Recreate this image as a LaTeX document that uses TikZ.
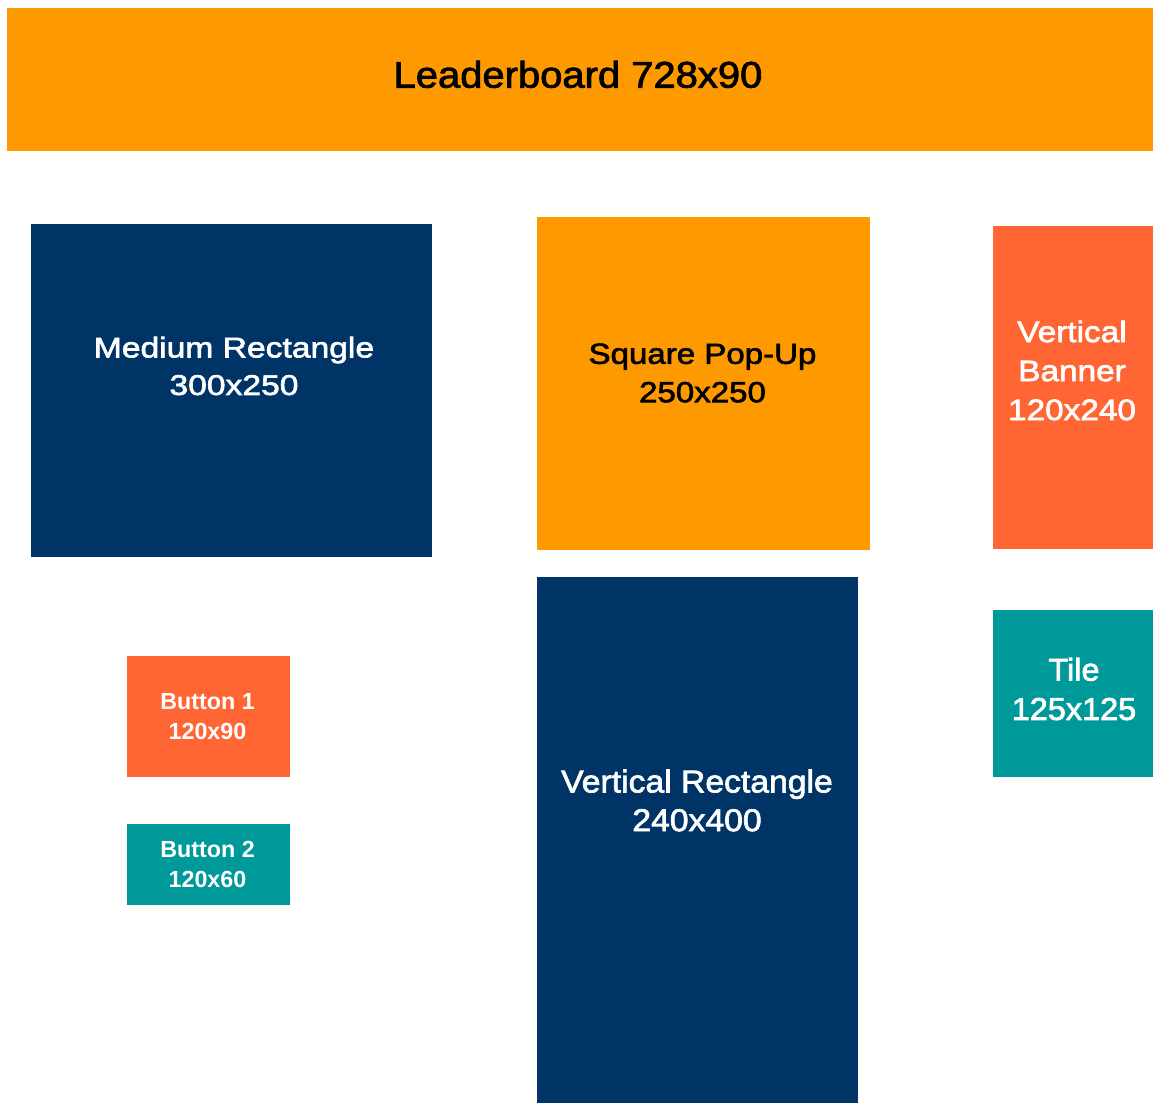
\documentclass[tikz,border=0pt]{standalone}
\usepackage{fontspec}
\setmainfont{Liberation Sans}
\definecolor{adorange}{HTML}{FF9900}
\definecolor{adnavy}{HTML}{003366}
\definecolor{adcoral}{HTML}{FF6633}
\definecolor{adteal}{HTML}{009999}
% size, line skip, horizontal stretch (slightly emboldened strokes)
\newcommand{\adfont}[3]{\fontsize{#1}{#2}\selectfont\addfontfeature{FakeStretch=#3,FakeBold=2.2}}
\begin{document}
\begin{tikzpicture}[x=1pt,y=-1pt,
  adbox/.style={draw=none,inner sep=0pt,outer sep=0pt,anchor=north west},
  adtext/.style={inner sep=0pt,outer sep=0pt,align=center,anchor=center}]
\useasboundingbox[fill=white] (0,0) rectangle (1153,1103);
% ad units
\node[adbox,fill=adorange,minimum width=1146pt,minimum height=143pt] (lead) at (7,8) {};
\node[adbox,fill=adnavy,minimum width=401pt,minimum height=333pt] (medrect) at (31,224) {};
\node[adbox,fill=adorange,minimum width=333pt,minimum height=333pt] (square) at (537,217) {};
\node[adbox,fill=adcoral,minimum width=160pt,minimum height=323pt] (vbanner) at (993,226) {};
\node[adbox,fill=adnavy,minimum width=321pt,minimum height=526pt] (vrect) at (537,577) {};
\node[adbox,fill=adteal,minimum width=160pt,minimum height=167pt] (tile) at (993,610) {};
\node[adbox,fill=adcoral,minimum width=163pt,minimum height=121pt] (btn1) at (127,656) {};
\node[adbox,fill=adteal,minimum width=163pt,minimum height=81pt] (btn2) at (127,824) {};
% captions
\node[adtext,text=black,font=\adfont{37}{38}{1.08}] (leadtxt) at (578,74.4) {Leaderboard 728x90};
\node[adtext,text=white,font=\adfont{28.5}{37.5}{1.18}] (medtxt) at (234,366) {Medium Rectangle\\300x250};
\node[adtext,text=black,font=\adfont{29}{38.4}{1.14}] (squaretxt) at (702.5,373) {Square Pop-Up\\250x250};
\node[adtext,text=white,font=\adfont{29.5}{39}{1.13}] (vbannertxt) at (1072,370.5) {Vertical\\Banner\\120x240};
\node[adtext,text=white,font=\adfont{31.5}{38.7}{1.07}] (vrecttxt) at (697,800.5) {Vertical Rectangle\\240x400};
\node[adtext,text=white,font=\adfont{31.5}{39.3}{1.03}] (tiletxt) at (1074,689) {Tile\\125x125};
\node[adtext,text=white,font={\fontsize{23.3}{30}\selectfont\bfseries}] (btn1txt) at (207.5,716.7) {Button 1\\120x90};
\node[adtext,text=white,font={\fontsize{23.3}{30}\selectfont\bfseries}] (btn2txt) at (207.5,864.7) {Button 2\\120x60};
\end{tikzpicture}
\end{document}
